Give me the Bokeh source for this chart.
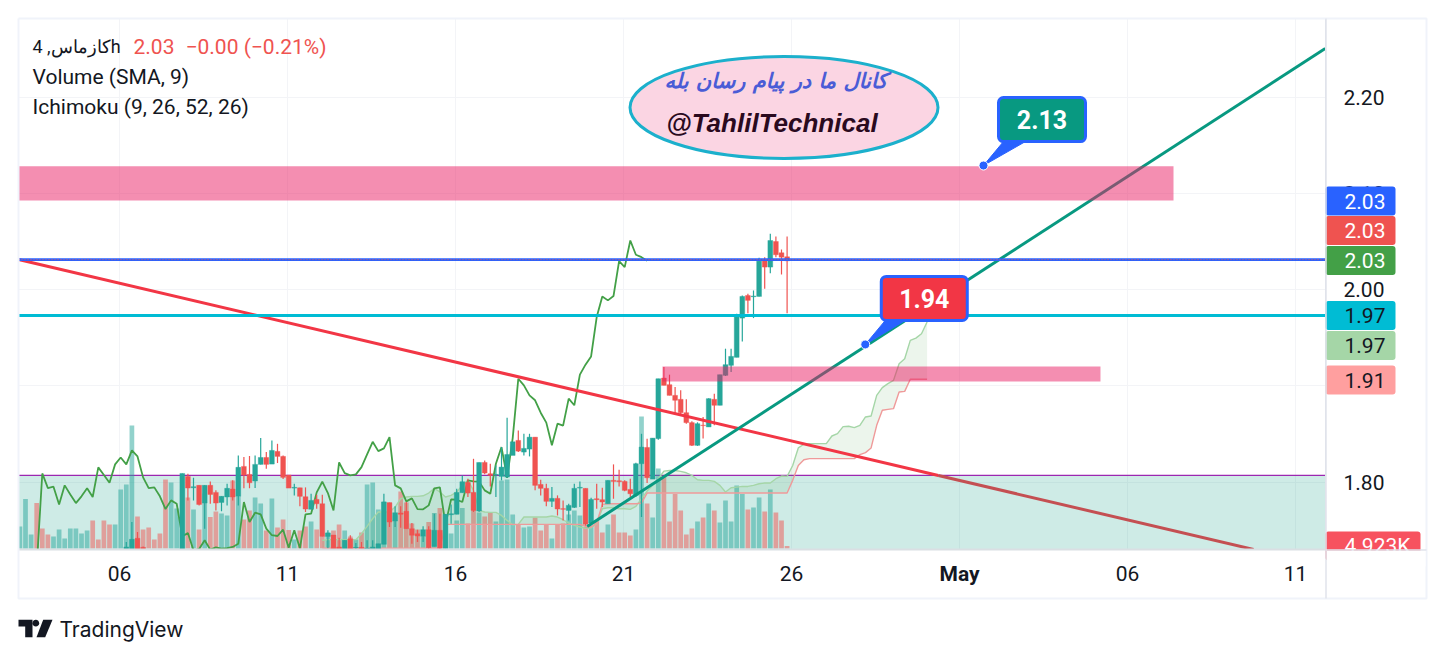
from math import cos, sin, pi
from bokeh.plotting import figure
from bokeh.layouts import column
from bokeh.embed import file_html
from bokeh.resources import INLINE
from bokeh.core.properties import value
from bokeh.models import (Range1d, FixedTicker, Label, ColumnDataSource, NumeralTickFormatter)

# ---------- data ----------
first_candle = 19
open_ = [1.72,1.72,1.7415,1.7321,1.71,1.71,1.71,1.71,1.71,1.71,1.71,1.8058,1.7940,1.7965,1.7781,1.7965,1.7892,1.7788,1.7844,1.7927,
 1.7851,1.8162,1.8079,1.8010,1.8183,1.8255,1.8186,1.8318,1.8266,1.8072,1.7937,1.7940,1.7847,1.7716,1.7819,1.7774,1.7435,1.7449,1.7325,1.729,
 1.7411,1.7314,1.7321,1.7300,1.729,1.729,1.7352,1.7785,1.7594,1.7678,1.7695,1.7515,1.7463,1.7435,1.7505,1.7331,1.7498,1.7311,1.7660,1.7664,
 1.7889,1.7996,1.7892,1.7698,1.8203,1.8086,1.8072,1.8058,1.8051,1.8276,1.8432,1.8311,1.8342,1.8466,1.7975,1.7934,1.7799,1.7830,1.7723,1.7705,
 1.7736,1.7937,1.7934,1.7574,1.7826,1.7816,1.7774,1.8017,1.8013,1.8006,1.7923,1.7861,1.8190,1.8359,1.8030,1.8451,1.9080,1.9011,1.8900,1.8859,
 1.8720,1.8617,1.8381,1.8590,1.8572,1.8859,1.8797,1.9108,1.9212,1.9295,1.9703,1.9938,1.9925,1.9928,2.0312,2.0233,2.0499,2.0381,2.0340]
high = [1.7376,1.7584,1.7480,1.7330,1.715,1.715,1.715,1.715,1.715,1.715,1.8089,1.8086,1.8044,1.7965,1.7965,1.8006,1.7913,1.7851,1.7982,1.8017,
 1.8276,1.8259,1.8269,1.8276,1.8456,1.8311,1.8432,1.8397,1.8276,1.8072,1.7982,1.7940,1.7944,1.7878,1.7868,1.7868,1.7498,1.7449,1.7421,1.7394,
 1.7446,1.7366,1.7376,1.7394,1.7394,1.7359,1.7878,1.7785,1.7747,1.7747,1.7792,1.7574,1.7505,1.7539,1.7539,1.7671,1.7671,1.7664,1.7767,1.7930,
 1.8068,1.8034,1.8241,1.8203,1.8224,1.8190,1.8172,1.8363,1.8667,1.8276,1.8536,1.8501,1.8501,1.8466,1.8023,1.7982,1.7947,1.7861,1.7809,1.7774,
 1.7982,1.8006,1.7934,1.7837,1.7982,1.7940,1.8017,1.8183,1.8127,1.8017,1.8034,1.8200,1.8501,1.8449,1.8456,1.9073,1.9195,1.9115,1.8987,1.8952,
 1.8859,1.8630,1.8620,1.8676,1.8870,1.8918,1.9115,1.9385,1.9385,1.9748,1.9938,1.9956,1.9990,2.0329,2.0336,2.0579,2.0551,2.0416,2.0551]
low = [1.71,1.71,1.71,1.71,1.705,1.705,1.705,1.705,1.705,1.705,1.71,1.7809,1.7809,1.7757,1.7515,1.7774,1.7705,1.7695,1.7757,1.7809,
 1.7757,1.7934,1.7934,1.7937,1.8183,1.8138,1.8186,1.8197,1.8030,1.7937,1.7861,1.7747,1.7688,1.7716,1.7723,1.7435,1.7311,1.725,1.725,1.725,
 1.725,1.725,1.725,1.725,1.725,1.725,1.7352,1.7532,1.7532,1.7525,1.7515,1.7359,1.7376,1.7376,1.7307,1.7331,1.7300,1.7311,1.7567,1.7664,
 1.7889,1.7844,1.7688,1.7688,1.8080,1.7954,1.7844,1.8017,1.8045,1.8276,1.8311,1.8276,1.8266,1.7913,1.7861,1.7747,1.7740,1.7653,1.7601,1.7601,
 1.7730,1.7740,1.7545,1.7570,1.7723,1.7740,1.7774,1.7826,1.7954,1.7905,1.7844,1.7844,1.7636,1.7989,1.8030,1.8440,1.9004,1.8900,1.8710,1.8705,
 1.8606,1.8375,1.8375,1.8451,1.8572,1.8589,1.8797,1.9101,1.9143,1.9295,1.9461,1.9752,1.9703,1.9928,2.0008,2.0170,2.0336,2.0156,1.9752]
close = [1.7325,1.7404,1.72,1.7250,1.712,1.712,1.712,1.712,1.712,1.712,1.8089,1.7937,1.7951,1.7767,1.7965,1.7871,1.7781,1.7851,1.7934,1.7844,
 1.8152,1.8072,1.7992,1.8183,1.8255,1.8183,1.8328,1.8266,1.8048,1.7937,1.7944,1.7851,1.7719,1.7809,1.7774,1.7435,1.7470,1.729,1.7303,1.7394,
 1.7297,1.7321,1.7307,1.7314,1.7325,1.7359,1.7792,1.7584,1.7681,1.7664,1.7515,1.7447,1.7439,1.7505,1.7318,1.7498,1.7311,1.7664,1.7671,1.7892,
 1.8003,1.7885,1.7705,1.8203,1.8093,1.8069,1.8079,1.8155,1.8286,1.8418,1.8321,1.8349,1.8466,1.7965,1.7934,1.7799,1.7830,1.7719,1.7716,1.7757,
 1.7934,1.7944,1.7560,1.7819,1.7816,1.7792,1.8017,1.8006,1.8003,1.7913,1.7878,1.8190,1.8363,1.8044,1.8456,1.9073,1.9004,1.8900,1.8849,1.8720,
 1.8617,1.8381,1.8606,1.8586,1.8866,1.8797,1.9115,1.9219,1.9305,1.9714,1.9928,1.9887,1.9932,2.0295,2.0233,2.0509,2.0361,2.0336,2.0298]
volume = [44,99,28,91,40,28,24,38,20,40, 40,30,36,56,18,56,48,48,118,128,
 246,64,38,42,18,30,138,132,80,120, 102,78,38,110,63,74,70,66,136,104,
 58,76,102,90,36,100,42,58,37,18, 36,44,54,38,24,32,36,48,36,24,
 18,32,128,132,78,94,92,66,114,92, 50,38,23,53,71,81,68,30,56,81,
 50,88,72,64,72,54,136,138,68,49, 42,44,62,36,48,20,48,50,68,76,
 66,43,46,56,32,48,68,32,32,26, 38,264,90,62,160,144,54,109,76,28,
 40,54,62,90,76,52,96,54,126,109, 78,82,102,74,118,72,56,4.923]
volume_dir = list("UUUDDDUUUU" "UUUDDDDUUU" "UDDDDDDUUU" "DUDUDDUUDU" "DDUUDUDDDU" "DDUDDUDDUD"
                  "UDUUUUDUDD" "DDUDUDUUUU" "DDUDDUUUUD" "UUDDDUDDUU" "UDUDDUDDDD" "UUDUUDDDDD"
                  "DUDUDUUUUU" "DUUDUDDD")
span_start = 54
span_a = [1.7394,1.7401,1.7401,1.7401,1.7401,1.7401,1.7401,1.7463,1.7539,1.7619,1.7688,1.7688,1.7688,1.7740,1.7826,1.7844,
 1.7851,1.7851,1.7857,1.7885,1.7934,1.7896,1.7844,1.7861,1.7896,1.7965,1.8017,1.7913,1.7705,1.7688,1.7684,1.7684,1.7653,1.7601,1.7556,1.7560,
 1.7636,1.7636,1.7636,1.7636,1.7636,1.7647,1.7636,1.7608,1.7574,1.7549,1.7532,1.7518,1.7525,1.7567,1.7722,1.7733,1.7733,1.7722,1.7722,1.7716,
 1.7747,1.7826,1.7906,1.7965,1.8034,1.8113,1.8120,1.8120,1.8110,1.8096,1.8069,1.8024,1.8017,1.8017,1.8006,1.7965,1.7896,1.7940,1.7947,1.7954,
 1.7954,1.7965,1.7982,1.7989,1.7989,1.8034,1.8062,1.8058,1.8172,1.8354,1.8392,1.8399,1.8399,1.8399,1.8399,1.8478,1.8503,1.8575,1.8579,1.8565,
 1.8589,1.8676,1.8686,1.8900,1.8980,1.9022,1.9056,1.9229,1.9281,1.9471,1.9495,1.9541,1.9662]
span_b = [1.7311]*22 + [1.7560]*25 + [1.7540,1.7532,1.7574,1.7767,1.7774,1.7774,1.7774,1.7774,1.7774,1.7774,1.7781,1.7885] \
 + [1.7885]*25 + [1.8017,1.8172,1.8231,1.8243,1.8243,1.8243] + [1.8243]*6 + [1.8285,1.8305,1.8354,1.8589,1.8745,1.8755,1.8762,1.8935,1.8942,1.9067,1.9067,1.9067,1.9067]

y_ticks = [1.80, 1.90, 2.00, 2.10, 2.20]
x_ticks = [17.79, 47.79, 77.79, 107.79, 137.79, 167.79, 197.79, 227.79]
x_labels = ["06", "11", "16", "21", "26", "", "06", "11"]
last_price = 2.031
level_price = 1.973
zone_price = 1.8068  # top of the shaded lower band
support_top, support_bottom = 1.92, 1.9044
resist_top, resist_bottom = 2.128, 2.0925
red_line_x = [-0.25, 220.3]
red_line_y = [2.0312, 1.7299]
green_line_x = [101.3, 233.1]
green_line_y = [1.7538, 2.2504]
callout_x = [172.07, 150.96]
callout_y = [2.1288, 1.9429]
callout_text = ["2.13", "1.94"]
callout_fill = ["#089981", "#f23645"]
tag_text = ["2.03", "2.03", "2.03", "1.97", "1.97", "1.91", "4.923K"]
tag_fill = ["#2962ff", "#ef5350", "#43a047", "#00bcd4", "#a5d6a7", "#ff9f9f", "#f7525f"]
tag_ink = ["white", "white", "white", "#131722", "#131722", "#131722", "white"]

PX_X, PX_Y = 5.6, 962.5   # pixels per bar, pixels per price unit
UP, DOWN = "#26a69a", "#ef5350"
FONT = "Roboto"

p = figure(width=1444, height=659, output_backend="svg", toolbar_location=None,
           x_range=Range1d(-0.25, 233.143), y_range=Range1d(1.72987, 2.28156),
           y_axis_location="right", min_border_left=18, min_border_right=119,
           min_border_top=18, min_border_bottom=110, outline_line_color=None,
           background_fill_color="white", border_fill_color="white", frame_align=False)

# axes and grid
p.xaxis.ticker = FixedTicker(ticks=x_ticks)
p.xaxis.major_label_overrides = dict(zip(x_ticks, x_labels))
p.yaxis.ticker = FixedTicker(ticks=y_ticks)
p.yaxis.formatter = NumeralTickFormatter(format="0.00")
for ax in (p.xaxis[0], p.yaxis[0]):
    ax.major_tick_line_color = None
    ax.minor_tick_line_color = None
    ax.major_label_text_font = FONT
    ax.major_label_text_font_size = "21px"
    ax.major_label_text_color = "#131722"
p.xaxis.axis_line_color = "#dadfe3"
p.xaxis.axis_line_width = 2
p.xaxis.major_label_standoff = 10
p.yaxis.axis_line_color = "#e0e3eb"
p.yaxis.axis_line_width = 1
p.yaxis.major_label_standoff = 12
p.grid.grid_line_color = "#f3f4f7"
p.grid.grid_line_width = 1

# shaded lower band sits under the volume
p.quad(left=-0.25, right=233.143, top=zone_price, bottom=1.72, fill_color="#089981", fill_alpha=0.2, line_color=None)
p.line([-0.25, 233.143], [zone_price] * 2, line_color="#9c27b0", line_width=1.2)

# volume, on its own scale
p.extra_y_ranges = {"vol": Range1d(-2, 1060)}
idx = list(range(len(volume)))
vol_src = ColumnDataSource(dict(x=idx, top=volume, color=[UP if d == "U" else DOWN for d in volume_dir]))
p.vbar(x="x", top="top", bottom=0, width=0.84, color="color", alpha=0.5, line_color=None,
       y_range_name="vol", source=vol_src)

# Ichimoku cloud
sx = [span_start + k for k in range(len(span_a))]
cloud = ColumnDataSource(dict(x=sx, a=span_a, b=span_b))
p.varea(x="x", y1="a", y2="b", fill_color="#43a047", fill_alpha=0.1, source=cloud)
p.line(x="x", y="a", line_color="#a5d6a7", line_width=1.4, source=cloud)
p.line(x="x", y="b", line_color="#ef9a9a", line_width=1.4, source=cloud)

# lagging span: closes moved back
lag_src = ColumnDataSource(dict(x=[first_candle + k - 25 for k in range(6, len(close))], y=close[6:]))
p.line(x="x", y="y", line_color="#43a047", line_width=1.8, source=lag_src)

# candles
cx = [first_candle + k for k in range(len(close))]
colors = [UP if c >= o else DOWN for o, c in zip(open_, close)]
src = ColumnDataSource(dict(x=cx, o=open_, h=high, l=low, c=close, color=colors))
p.segment(x0="x", y0="l", x1="x", y1="h", line_color="color", line_width=1.2, source=src)
p.vbar(x="x", top="o", bottom="c", width=0.86, fill_color="color", line_color="color", line_width=0.4, source=src)

# trend lines and levels: the red line is muted where it runs under the band
t = (zone_price - red_line_y[0]) / (red_line_y[1] - red_line_y[0])
cross_x = red_line_x[0] + t * (red_line_x[1] - red_line_x[0])
p.line([red_line_x[0], cross_x], [red_line_y[0], zone_price], line_color="#f23645", line_width=3)
p.line([cross_x, red_line_x[1]], [zone_price, red_line_y[1]], line_color="#c44f52", line_width=3)
p.line(green_line_x, green_line_y, line_color="#089981", line_width=3)
p.line([-0.25, 233.143], [level_price] * 2, line_color="#00bcd4", line_width=3)
p.line([-0.25, 233.143], [last_price] * 2, line_color="#2962ff", line_width=2.8)
p.line([-0.25, 233.143], [last_price] * 2, line_color="#ef5350", line_width=1, line_dash="1 2")

# shaded zones
p.quad(left=-0.25, right=206.0, top=resist_top, bottom=resist_bottom, fill_color="#e91e63", fill_alpha=0.5, line_color=None)
p.quad(left=114.75, right=192.96, top=support_top, bottom=support_bottom, fill_color="#e91e63", fill_alpha=0.5, line_color=None)

# ellipse note
p.ellipse(x=[136.45], y=[2.1891], width=55, height=0.106, fill_color="#fbd3e2", fill_alpha=0.95,
          line_color="#1cb0cc", line_width=3)
p.text(x=[135], y=[2.2171], text=["کانال ما در پیام رسان بله"], text_font=value("DejaVu Sans"),
       text_font_style="bold italic", text_font_size="21px", text_color="#4a5cd6",
       text_align="center", text_baseline="middle")
p.text(x=[134.3], y=[2.1735], text=["@TahlilTechnical"], text_font=value("Liberation Sans"),
       text_font_style="bold italic", text_font_size="26px", text_color="#2a0a1e",
       text_align="center", text_baseline="middle")

# callouts
for ax_, ay, txt, fc, (bl, br, bt, bb), (t1, t2) in zip(
        callout_x, callout_y, callout_text, callout_fill,
        [(15, 102, 68, 24), (16, 102, 68, 24)], [(20, 42), (20, 40)]):
    left, right = ax_ + bl / PX_X, ax_ + br / PX_X
    top, bottom = ay + bt / PX_Y, ay + bb / PX_Y
    p.patch([ax_, ax_ + t1 / PX_X, ax_ + t2 / PX_X], [ay, bottom, bottom], fill_color="#2962ff", line_color="#2962ff", line_width=1)
    p.quad(left=left, right=right, top=top, bottom=bottom, fill_color=fc, line_color="#2962ff",
           line_width=3, border_radius=5)
    p.text(x=[(left + right) / 2], y=[(top + bottom) / 2], text=[txt], text_font=value(FONT),
           text_font_style="bold", text_font_size="25px", text_color="white",
           text_align="center", text_baseline="middle")
    p.scatter([ax_], [ay], size=9, fill_color="#2962ff", line_color="white", line_width=1)

# header inside the pane
def lab(x, y, text, size="21px", color="#131722"):
    p.add_layout(Label(x=x, y=y, x_units="canvas", y_units="canvas", text=text, text_font=FONT,
                       text_font_size=size, text_color=color, text_baseline="middle"))

lab(32, 46, "کازماس, 4h", size="18px")
lab(133, 46, "2.03", color="#ef5350")
lab(185, 46, "−0.00 (−0.21%)", color="#ef5350")
lab(32, 76, "Volume (SMA, 9)")
lab(32, 106, "Ichimoku (9, 26, 52, 26)")

# ---------- transparent page-sized layer for everything outside the pane ----------
o = figure(width=1444, height=659, output_backend="svg", toolbar_location=None,
           x_range=Range1d(0, 1444), y_range=Range1d(659, 0), x_axis_location=None, y_axis_location=None,
           min_border=0, outline_line_color=None, background_fill_alpha=0, border_fill_alpha=0,
           margin=(-659, 0, 0, 0), frame_align=False)
o.grid.visible = False

# outer frame
o.line([18, 1426, 1426, 18, 18], [18, 18, 598, 598, 18], line_color="#f0f3fa", line_width=2)
# price tags on the right
tag_center = [200.5, 230, 260, 315, 345, 379.5, 545.5]
tag_right = [1395, 1395, 1395, 1395, 1395, 1395, 1420]
o.quad(left=1325, right=tag_right, top=[c - 14.5 for c in tag_center], bottom=[c + 14.5 for c in tag_center],
       fill_color=tag_fill, line_color=None, border_radius=3)
o.text(x=1344, y=tag_center, text=tag_text, text_color=tag_ink, text_font=value(FONT), text_font_size="21px",
       text_baseline="middle")
# below the pane the last tag is cut off; the axis rules run through
o.quad(left=1326, right=1425, top=550, bottom=566, fill_color="white", line_color=None)
o.line([1325.5, 1325.5], [18, 598], line_color="#e0e3eb", line_width=1.5)
o.line([1325, 1426], [549.5, 549.5], line_color="#e0e3eb", line_width=1.5)
# bold month label on the date axis
o.text(x=[939], y=[573], text=["May"], text_font=value(FONT), text_font_style="bold", text_font_size="21px",
       text_color="#131722", text_baseline="middle")
# TradingView mark
o.patches(xs=[[18, 32, 32, 24.7, 24.7, 18],
              [35.3 + 3.4 * cos(k * pi / 8) for k in range(16)],
              [42.7, 52, 44.7, 36]],
          ys=[[619.3, 619.3, 636.7, 636.7, 626, 626],
              [622.7 + 3.4 * sin(k * pi / 8) for k in range(16)],
              [619.3, 619.3, 636.7, 636.7]], fill_color="#131722", line_color=None)
o.text(x=[59], y=[629], text=["TradingView"], text_font=value("Inter"), text_font_size="21px",
       text_color="#131722", text_baseline="middle")

open("out.html", "w").write(file_html(column(p, o, spacing=0), INLINE))
